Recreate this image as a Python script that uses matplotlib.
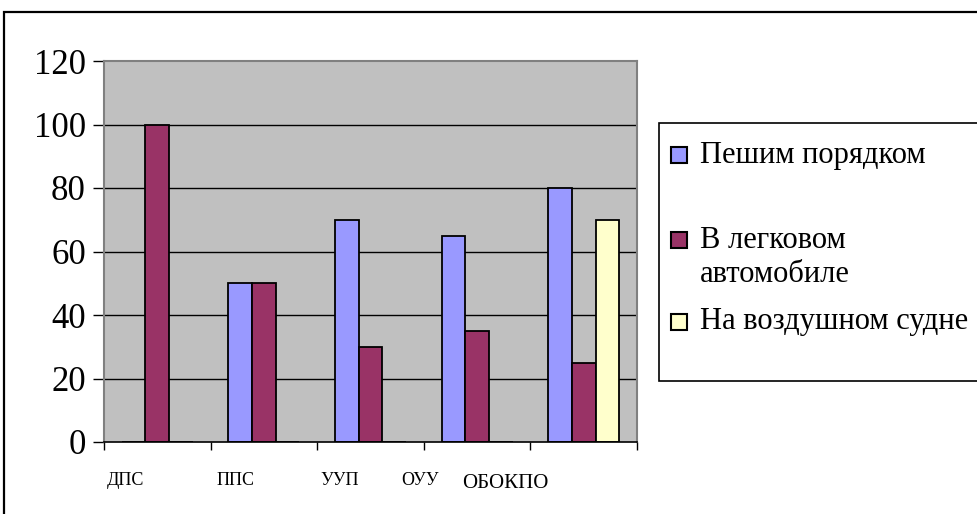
import numpy as np
import matplotlib
matplotlib.use("Agg")
import matplotlib.pyplot as plt
from matplotlib.patches import Rectangle

# data
categories = ["ДПС", "ППС", "УУП", "ОУУ", "ОБОКПО"]
series_names = ["Пешим порядком", "В легковом\nавтомобиле", "На воздушном судне"]
walk = [0, 50, 70, 65, 80]
car = [100, 50, 30, 35, 25]
air = [0, 0, 0, 0, 70]
y_ticks = [0, 20, 40, 60, 80, 100, 120]

colors = ["#9999FF", "#993366", "#FFFFCC"]
# label offsets from the left edge of each category (the labels sit off-center in the original)
label_offset = [0.03, 0.06, 0.03, -0.21, -0.64]
label_size = [13, 13, 13, 13, 15]

serif = ['Liberation Serif', 'DejaVu Serif']
plt.rcParams['font.family'] = serif

W, H = 977, 514
fig = plt.figure(figsize=(W / 100, H / 100), dpi=100)

# outer chart border (right and bottom run off the image)
fig.patches.append(Rectangle((4 / W, -0.2), 1.5, 1.2 - 12 / H, transform=fig.transFigure,
                             fill=False, edgecolor="black", linewidth=1.6))

ax = fig.add_axes([104 / W, 1 - 442 / H, 533 / W, 381 / H])
ax.set_facecolor("#C0C0C0")

x = np.arange(len(categories))
bw = 1 / 4.5
for i, vals in enumerate([walk, car, air]):
    ax.bar(x + (i - 1) * bw, vals, width=bw, color=colors[i], edgecolor="black",
           linewidth=1.3, zorder=3)

ax.set_xlim(-0.5, len(categories) - 0.5)
ax.set_ylim(0, 120)
ax.set_yticks(y_ticks)
ax.set_yticklabels([str(v) for v in y_ticks], fontsize=25, family=serif)
ax.tick_params(axis="y", length=8, width=1, pad=5, direction="out")
for v in y_ticks[1:-1]:
    ax.axhline(v, color="black", linewidth=1, zorder=1)

ax.set_xticks(np.arange(len(categories) + 1) - 0.5)
ax.set_xticklabels([])
ax.tick_params(axis="x", length=6, width=1, direction="out")
for i, name in enumerate(categories):
    dy = -0.1 if name != "ОБОКПО" else -0.108
    ax.text(i - 0.5 + label_offset[i], dy, name, transform=ax.get_xaxis_transform(),
            ha="left", va="center", fontsize=label_size[i], family=serif)

for s in ["top", "right", "left"]:
    ax.spines[s].set_color("#808080")
    ax.spines[s].set_linewidth(1.5)
ax.spines["bottom"].set_color("black")
ax.spines["bottom"].set_linewidth(1.2)
ax.spines["bottom"].set_zorder(5)

# legend drawn by hand to keep the Excel-style spacing
fig.patches.append(Rectangle((659 / W, 1 - 381 / H), 0.5, (381 - 123) / H,
                             transform=fig.transFigure, facecolor="white",
                             edgecolor="black", linewidth=1.2))
entry_y = [155, 240, 322]
for i, name in enumerate(series_names):
    yc = entry_y[i]
    fig.patches.append(Rectangle((671 / W, 1 - (yc + 8) / H), 16 / W, 16 / H,
                                 transform=fig.transFigure, facecolor=colors[i],
                                 edgecolor="black", linewidth=1.5))
    for j, line in enumerate(name.split("\n")):
        fig.text(700 / W, 1 - (yc + 35 * j) / H, line, ha="left", va="center",
                 fontsize=22, family=serif)

fig.savefig("out.png", dpi=100)
